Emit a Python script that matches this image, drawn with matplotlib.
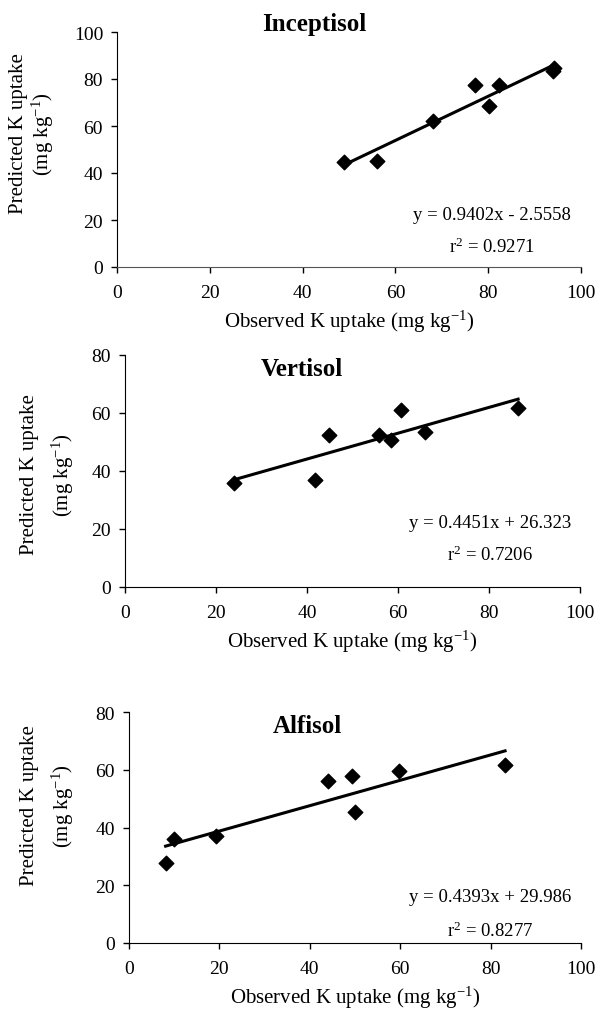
import matplotlib
matplotlib.use('Agg')
import matplotlib.pyplot as plt
import numpy as np

plt.rcParams['font.family'] = 'Liberation Serif'
plt.rcParams['mathtext.fontset'] = 'custom'
plt.rcParams['mathtext.rm'] = 'Liberation Serif'
plt.rcParams['mathtext.it'] = 'Liberation Serif:italic'

# observed vs predicted K uptake (mg/kg)
incep_obs = [49.0, 56.1, 68.1, 77.2, 80.2, 82.3, 93.9, 94.2]
incep_pred = [44.6, 45.2, 62.3, 77.6, 68.4, 77.6, 83.5, 84.5]
vert_obs = [24.0, 41.8, 44.8, 55.8, 58.5, 60.7, 65.9, 86.4]
vert_pred = [35.8, 36.9, 52.3, 52.3, 50.7, 61.1, 53.6, 61.7]
alfi_obs = [8.1, 10.0, 19.2, 44.1, 49.4, 50.1, 59.7, 83.2]
alfi_pred = [27.8, 36.1, 37.1, 56.0, 57.9, 45.5, 59.5, 61.7]

# regression lines: slope, intercept, r2
incep_fit = (0.9402, -2.5558, 0.9271)
vert_fit = (0.4451, 26.323, 0.7206)
alfi_fit = (0.4393, 29.986, 0.8277)
eq_labels = ['y = 0.9402x - 2.5558', 'y = 0.4451x + 26.323', 'y = 0.4393x + 29.986']

W, H = 596, 1012
fig = plt.figure(figsize=(W / 100, H / 100), dpi=100)

def box(l, r, top, bot):
    return [l / W, 1 - bot / H, (r - l) / W, (bot - top) / H]

panels = [
    ('Inceptisol', incep_obs, incep_pred, incep_fit, 100, box(117, 581, 33, 268),
     (314, 25), (492, 215, 247), (19, 43, 134)),
    ('Vertisol', vert_obs, vert_pred, vert_fit, 80, box(125, 580, 356, 588),
     (302, 369), (490, 523, 555), (30, 63, 475)),
    ('Alfisol', alfi_obs, alfi_pred, alfi_fit, 80, box(129, 581, 713, 944),
     (307, 727), (490, 898, 931), (30, 63, 806)),
]

for i, (name, xo, yp, fit, ymax, pos, tpos, epos, lpos) in enumerate(panels):
    ax = fig.add_axes(pos)
    ax.scatter(xo, yp, marker='D', s=55, color='black', zorder=3)
    xs = np.array([min(xo), max(xo)])
    ax.plot(xs, fit[0] * xs + fit[1], color='black', lw=2.2)
    ax.set_xlim(0, 100)
    ax.set_ylim(0, ymax)
    ax.set_xticks(np.arange(0, 101, 20))
    ax.set_yticks(np.arange(0, ymax + 1, 20))
    ax.spines['top'].set_visible(False)
    ax.spines['right'].set_visible(False)
    if i == 0:
        ax.spines['bottom'].set_color('#555555')
    ax.tick_params(axis='both', direction='out', length=4, width=1, labelsize=14)
    ax.tick_params(axis='x', pad=8)
    ax.tick_params(axis='y', pad=6)
    ax.set_xlabel('Observed K uptake (mg kg$^{-1}$)', fontsize=15, labelpad=5)

    fig.text(tpos[0] / W, 1 - tpos[1] / H, name, fontsize=18, fontweight='bold',
             ha='center', va='center')
    fig.text(epos[0] / W, 1 - epos[1] / H, eq_labels[i],
             fontsize=13.5, ha='center', va='center')
    fig.text(epos[0] / W, 1 - epos[2] / H, 'r$^2$ = %.4f' % fit[2],
             fontsize=13.5, ha='center', va='center')
    fig.text(lpos[0] / W, 1 - lpos[2] / H, 'Predicted K uptake', fontsize=15,
             rotation=90, ha='center', va='center')
    fig.text(lpos[1] / W, 1 - lpos[2] / H, '(mg kg$^{-1}$)', fontsize=15,
             rotation=90, ha='center', va='center')

fig.savefig('out.png', dpi=100)
